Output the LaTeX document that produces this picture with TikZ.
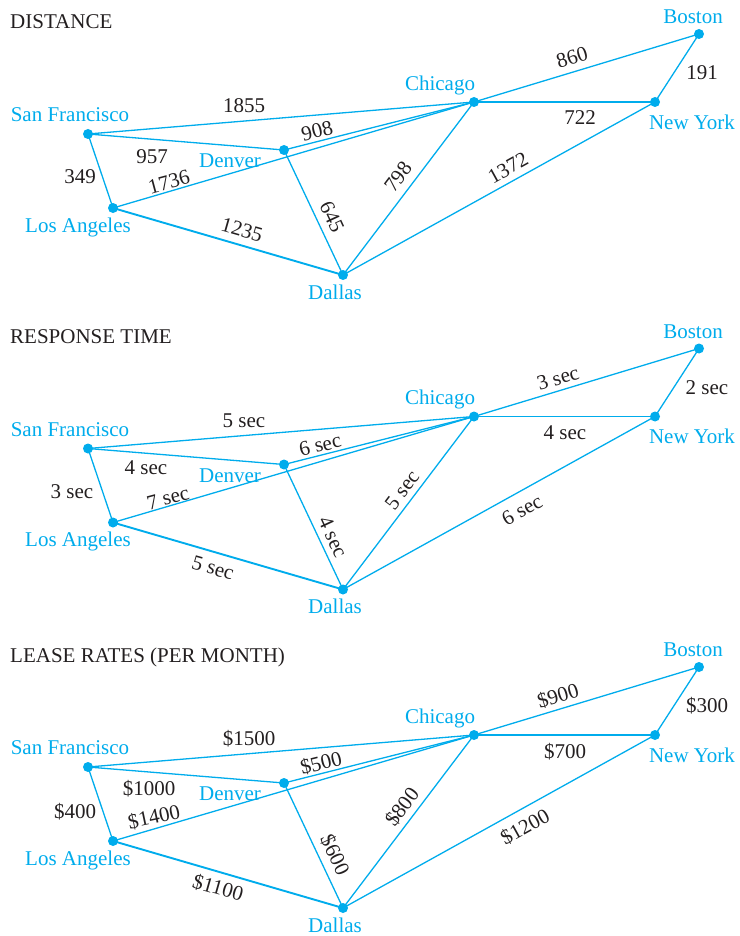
\documentclass[tikz,border=0pt]{standalone}
\usepackage{fontspec}
\setmainfont{Liberation Serif}
\newfontfamily\tms{Liberation Serif}
\definecolor{netcyan}{RGB}{0,172,236}
\definecolor{ink}{RGB}{35,31,32}
\tikzset{
  dot/.style={circle,fill=netcyan,inner sep=0pt,minimum size=10pt},
  edge/.style={draw=netcyan,line width=1.3pt},
  thickedge/.style={draw=netcyan,line width=1.9pt},
  city/.style={text=netcyan,inner sep=0pt,font=\tms\fontsize{21}{24}\selectfont},
  num/.style={text=ink,inner sep=0pt,font=\tms\fontsize{21}{24}\selectfont},
  ttl/.style={text=ink,inner sep=0pt,anchor=west,font=\tms\fontsize{21}{24}\selectfont},
}
\newcommand\citynet{%
  \node[dot] (sf) at (88,134) {};
  \node[dot] (den) at (284,150) {};
  \node[dot] (la) at (113,208) {};
  \node[dot] (dal) at (343,275) {};
  \node[dot] (chi) at (474,102) {};
  \node[dot] (ny) at (655,102) {};
  \node[dot] (bos) at (699,34) {};
  \draw[edge] (sf.center) -- (chi.center);
  \draw[edge] (sf.center) -- (den.center);
  \draw[edge] (sf.center) -- (la.center);
  \draw[edge] (la.center) -- (chi.center);
  \draw[thickedge] (la.center) -- (dal.center);
  \draw[edge] (den.center) -- (chi.center);
  \draw[edge] (den.center) -- (dal.center);
  \draw[edge] (dal.center) -- (chi.center);
  \draw[edge] (dal.center) -- (ny.center);
  \draw[thickedge] (chi.center) -- (ny.center);
  \draw[edge] (chi.center) -- (bos.center);
  \draw[edge] (ny.center) -- (bos.center);
  \node[city] (sfl) at (70,115) {San Francisco};
  \node[city] (denl) at (230,161) {Denver};
  \node[city] (lal) at (78,227) {Los Angeles};
  \node[city] (dall) at (335,292) {Dallas};
  \node[city] (chil) at (440,85) {Chicago};
  \node[city] (nyl) at (692,122) {New York};
  \node[city] (bosl) at (693,17) {Boston};
}
\begin{document}
\begin{tikzpicture}[x=1pt,y=-1pt]
\useasboundingbox (0,0) rectangle (739,936);
% Panel 1
\begin{scope}[name prefix=a-]
  \citynet
  \node[ttl] (title) at (10,22) {DISTANCE};
  \node[num] (l1) at (244,106) {1855};
  \node[num,rotate=14] (l2) at (317,131) {908};
  \node[num] (l3) at (152,157) {957};
  \node[num,rotate=15] (l4) at (169,182) {1736};
  \node[num] (l5) at (80,177) {349};
  \node[num,rotate=-16] (l6) at (242,230) {1235};
  \node[num,rotate=-65] (l7) at (332,217) {645};
  \node[num,rotate=53] (l8) at (398,177) {798};
  \node[num,rotate=29] (l9) at (508,168) {1372};
  \node[num] (l10) at (580,118) {722};
  \node[num,rotate=17] (l11) at (572,57) {860};
  \node[num] (l12) at (702,73) {191};
\end{scope}
% Panel 2
\begin{scope}[shift={(0,314.5)},name prefix=b-]
  \citynet
  \node[ttl] (title) at (10,22) {RESPONSE TIME};
  \node[num] (l1) at (244,106.5) {5 sec};
  \node[num,rotate=14] (l2) at (320,130.5) {6 sec};
  \node[num] (l3) at (146,153.5) {4 sec};
  \node[num,rotate=15] (l4) at (168,183.5) {7 sec};
  \node[num] (l5) at (72,177.5) {3 sec};
  \node[num,rotate=-16] (l6) at (213,253.5) {5 sec};
  \node[num,rotate=-65] (l7) at (333,222.5) {4 sec};
  \node[num,rotate=53] (l8) at (402,175.5) {5 sec};
  \node[num,rotate=29] (l9) at (522,195.5) {6 sec};
  \node[num] (l10) at (565,118.5) {4 sec};
  \node[num,rotate=17] (l11) at (558,63.5) {3 sec};
  \node[num] (l12) at (707,73.5) {2 sec};
\end{scope}
% Panel 3
\begin{scope}[shift={(0,633)},name prefix=c-]
  \citynet
  \node[ttl] (title) at (10,24) {LEASE RATES (PER MONTH)};
  \node[num] (l1) at (249,106) {\$1500};
  \node[num,rotate=14] (l2) at (321,130) {\$500};
  \node[num] (l3) at (149,156) {\$1000};
  \node[num] (l5) at (75,179) {\$400};
  \node[num,rotate=12] (l4) at (154,184) {\$1400};
  \node[num,rotate=-16] (l6) at (218,255) {\$1100};
  \node[num,rotate=-65] (l7) at (335,222) {\$600};
  \node[num,rotate=53] (l8) at (402,174) {\$800};
  \node[num,rotate=29] (l9) at (525,194) {\$1200};
  \node[num] (l10) at (565,119) {\$700};
  \node[num,rotate=17] (l11) at (558,63) {\$900};
  \node[num] (l12) at (707,73) {\$300};
\end{scope}
\end{tikzpicture}
\end{document}
